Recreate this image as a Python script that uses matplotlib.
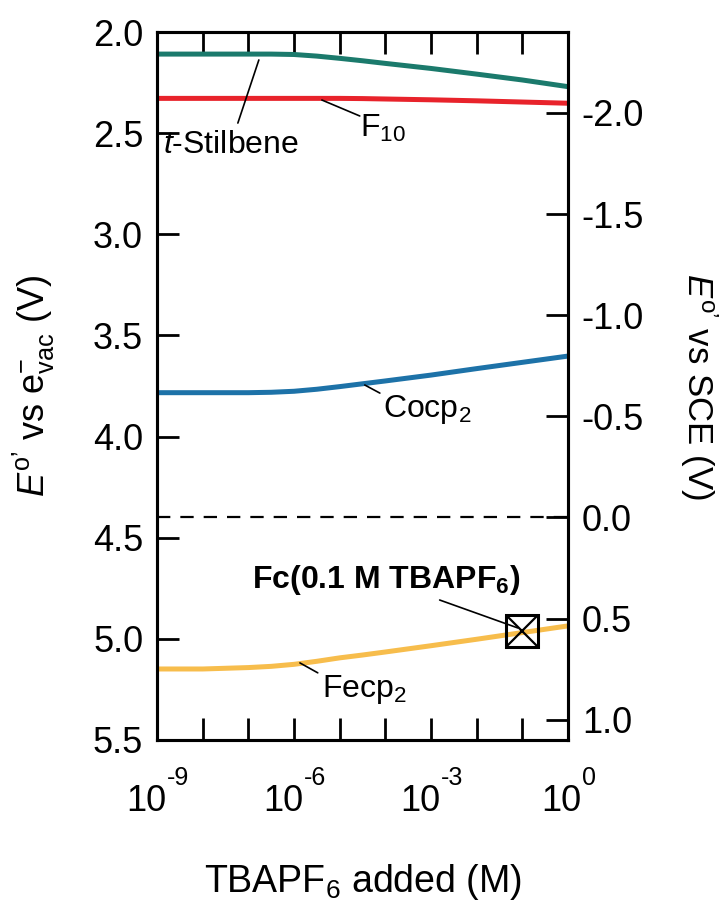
import numpy as np
import matplotlib
matplotlib.use('Agg')
import matplotlib.pyplot as plt
from matplotlib.ticker import FixedLocator, FuncFormatter, NullFormatter

plt.rcParams['font.family'] = ['Liberation Sans', 'DejaVu Sans']
plt.rcParams['mathtext.fontset'] = 'custom'
plt.rcParams['mathtext.rm'] = 'Liberation Sans'
plt.rcParams['mathtext.it'] = 'Liberation Sans:italic'
plt.rcParams['mathtext.bf'] = 'Liberation Sans:bold'
plt.rcParams['axes.unicode_minus'] = False

# log10 of TBAPF6 concentration (M)
log_conc = [-9, -8, -7, -6.5, -6, -5.5, -5, -4.5, -4, -3, -2, -1, 0]

# E°' vs e- vac (V)
stilbene = [2.109, 2.109, 2.109, 2.109, 2.111, 2.119, 2.130, 2.142, 2.155, 2.180, 2.208, 2.237, 2.270]
f10 = [2.328, 2.328, 2.328, 2.328, 2.328, 2.328, 2.328, 2.329, 2.331, 2.335, 2.340, 2.346, 2.352]
cocp2 = [3.783, 3.783, 3.783, 3.781, 3.776, 3.766, 3.753, 3.739, 3.725, 3.696, 3.664, 3.633, 3.602]
fecp2 = [5.149, 5.149, 5.142, 5.136, 5.126, 5.111, 5.094, 5.080, 5.065, 5.034, 5.002, 4.969, 4.936]

fc_conc = 0.1
fc_e = 4.963
sce_offset = 4.4  # SCE zero on vacuum scale

left_ticks = [2.0, 2.5, 3.0, 3.5, 4.0, 4.5, 5.0, 5.5]
right_ticks = [-2.0, -1.5, -1.0, -0.5, 0.0, 0.5, 1.0]
x_labeled = [-9, -6, -3, 0]

conc = [10.0 ** k for k in log_conc]

fig = plt.figure(figsize=(7.25, 9), dpi=100)
ax = fig.add_axes([0.2166, 0.1778, 0.5668, 0.7866])

ax.plot(conc, stilbene, color='#1b7a6c', lw=3.6, solid_capstyle='butt')
ax.plot(conc, f10, color='#e8232b', lw=3.6, solid_capstyle='butt')
ax.plot(conc, cocp2, color='#1d72a8', lw=3.6, solid_capstyle='butt')
ax.plot(conc, fecp2, color='#f7bd4c', lw=3.6, solid_capstyle='butt')
ax.axhline(sce_offset, color='black', lw=1.6, dashes=(6, 4.5))

ax.plot([fc_conc], [fc_e], marker='s', ms=23, mfc='none', mec='black', mew=2.2)
ax.plot([fc_conc], [fc_e], marker='x', ms=23, mec='black', mew=1.6)

ax.set_xscale('log')
ax.set_xlim(1e-9, 1e0)
ax.set_ylim(5.5, 2.0)

ax.xaxis.set_major_locator(FixedLocator([10.0 ** k for k in range(-9, 1)]))
ax.xaxis.set_minor_locator(FixedLocator([]))
ax.xaxis.set_major_formatter(NullFormatter())
ax.yaxis.set_major_locator(FixedLocator(left_ticks))
ax.yaxis.set_major_formatter(FuncFormatter(lambda v, p: '%.1f' % v))

ax.tick_params(axis='x', which='major', direction='in', length=16, width=2,
               top=True, bottom=True)
ax.tick_params(axis='y', which='major', direction='in', length=16, width=2,
               left=True, right=False, labelsize=26, pad=10)
for s in ax.spines.values():
    s.set_linewidth(2.2)

# decade labels: "10" with a raised exponent, centred on the tick
base_fs, exp_fs = 26, 18
w10 = 1.112 * base_fs
for k in x_labeled:
    e = str(k)
    wexp = sum(0.333 if c == '-' else 0.556 for c in e) * exp_fs
    x0 = -(w10 + wexp) / 2
    ax.annotate('10', xy=(10.0 ** k, 0), xycoords=('data', 'axes fraction'),
                xytext=(x0, -51), textcoords='offset points', ha='left',
                va='baseline', fontsize=base_fs, annotation_clip=False)
    ax.annotate(e, xy=(10.0 ** k, 0), xycoords=('data', 'axes fraction'),
                xytext=(x0 + w10 + 0.5, -32.5), textcoords='offset points', ha='left',
                va='baseline', fontsize=exp_fs, annotation_clip=False)

ax2 = ax.twinx()
ax2.set_ylim(5.5 - sce_offset, 2.0 - sce_offset)
ax2.yaxis.set_major_locator(FixedLocator(right_ticks))
ax2.yaxis.set_major_formatter(FuncFormatter(lambda v, p: '%.1f' % (0.0 if abs(v) < 1e-9 else v)))
ax2.tick_params(axis='y', direction='in', length=16, width=2, labelsize=26, pad=10)
for s in ax2.spines.values():
    s.set_linewidth(2.2)

ax.set_xlabel(r'TBAPF$_6$ added (M)', fontsize=27, labelpad=84)
ax.set_ylabel(r'$\it{E}^{\rm o’}$ vs e$^{-}_{\rm vac}$ (V)', fontsize=26, labelpad=26)
ax2.set_ylabel(r'$\it{E}^{\rm o’}$ vs SCE (V)', fontsize=25, rotation=270,
               va='bottom', labelpad=24)

# curve labels with leader lines
lead = dict(arrowstyle='-', lw=1.2, color='black', shrinkA=0, shrinkB=0)
ax.annotate('', xy=(10 ** -6.77, 2.138), xytext=(10 ** -7.23, 2.45), arrowprops=lead)
ax.text(10 ** -8.87, 2.56, r'$\it{t}$-Stilbene', fontsize=23, va='center', ha='left')

ax.annotate('', xy=(10 ** -5.39, 2.336), xytext=(10 ** -4.56, 2.415), arrowprops=lead)
ax.text(10 ** -4.56, 2.475, r'F$_{10}$', fontsize=23, va='center', ha='left')

ax.annotate('', xy=(10 ** -4.45, 3.745), xytext=(10 ** -4.12, 3.785), arrowprops=lead)
ax.text(10 ** -4.05, 3.868, r'Cocp$_2$', fontsize=23, va='center', ha='left')

ax.annotate('', xy=(10 ** -5.87, 5.119), xytext=(10 ** -5.48, 5.168), arrowprops=lead)
ax.text(10 ** -5.39, 5.25, r'Fecp$_2$', fontsize=23, va='center', ha='left')

ax.annotate('', xy=(10 ** -1.1, 4.946), xytext=(10 ** -2.81, 4.808), arrowprops=lead)
ax.text(10 ** -3.99, 4.709, r'Fc(0.1 M TBAPF$_\mathbf{6}$)', fontsize=23,
        fontweight='bold', va='center', ha='center')

fig.savefig('out.png', dpi=100)
